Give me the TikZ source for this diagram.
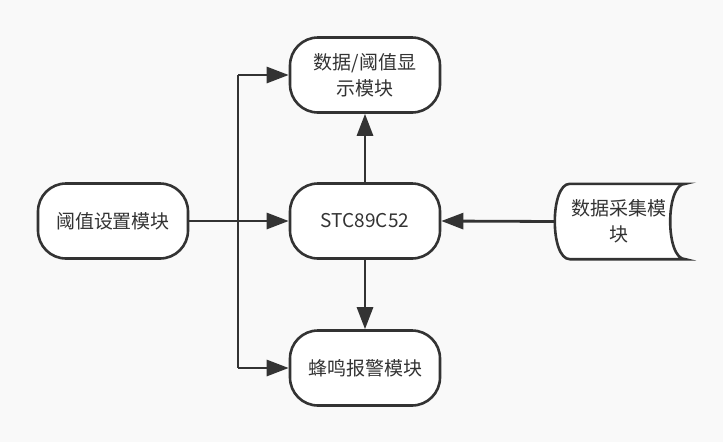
\documentclass[tikz,border=0pt]{standalone}
\usepackage{fontspec}
\setmainfont{Noto Sans CJK SC}
\usetikzlibrary{arrows.meta}
\definecolor{bg}{HTML}{F9F9F9}
\definecolor{ink}{HTML}{333333}
\begin{document}
\begin{tikzpicture}[x=1pt,y=-1pt,
  box/.style={draw=ink, line width=2.6pt, fill=white, rounded corners=28pt,
    minimum width=150pt, minimum height=75pt, inner sep=0pt, align=center,
    font=\fontsize{19}{26}\selectfont, text=ink},
  conn/.style={draw=ink, line width=2.8pt, -{Triangle[length=22pt,width=16pt]}},
  wire/.style={draw=ink, line width=2.8pt}]
\fill[bg] (0,0) rectangle (723,442);
\useasboundingbox (0,0) rectangle (723,442);
\node[box] (set) at (113,221) {阈值设置模块};
\node[box] (mcu) at (365,221) {STC89C52};
\node[box] (disp) at (365,75) {数据/阈值显\\示模块};
\node[box] (buzz) at (365,368) {蜂鸣报警模块};
\node[inner sep=0pt, minimum width=135pt, minimum height=75pt] (dc) at (617.5,221.5) {};
\fill[white, draw=ink, line width=2.6pt]
  ([xshift=20pt]dc.north west) -- (dc.north east)
  .. controls ([xshift=-20pt]dc.north east) and ([xshift=-20pt]dc.south east) .. (dc.south east)
  -- ([xshift=20pt]dc.south west)
  .. controls (dc.south west) and (dc.north west) .. ([xshift=20pt]dc.north west) -- cycle;
\node[align=center, font=\fontsize{19}{26}\selectfont, text=ink] (dct) at (619,221.5) {数据采集模\\块};
\coordinate (dcl) at ([xshift=5pt]dc.west);
\draw[conn] (set.east) -- (mcu.west);
\draw[wire] (238,75) -- (238,368);
\draw[conn] (238,75) -- (disp.west);
\draw[conn] (238,368) -- (buzz.west);
\draw[conn] (mcu.north) -- (disp.south);
\draw[conn] (mcu.south) -- (buzz.north);
\draw[conn] (dcl) -- (mcu.east);
\end{tikzpicture}
\end{document}
